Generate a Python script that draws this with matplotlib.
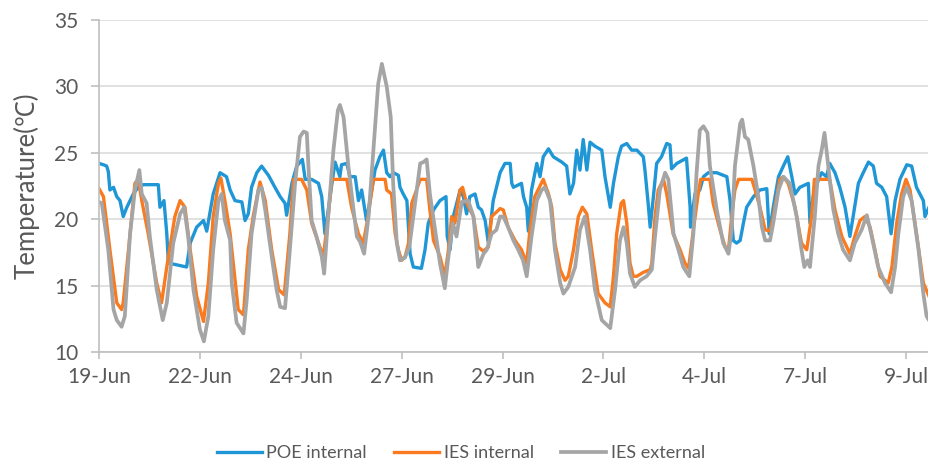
import matplotlib
matplotlib.use('Agg')
import matplotlib.pyplot as plt

# days since 19-Jun 00:00, temperature in degC
poe_t = [0.00, 0.11, 0.19, 0.23, 0.27, 0.36, 0.44, 0.52, 0.60, 0.69, 0.85, 0.97, 1.10, 1.47, 1.51, 1.61,
         1.68, 1.72, 2.17, 2.26, 2.42, 2.59, 2.67, 2.83, 3.00, 3.16, 3.25, 3.37, 3.54, 3.62, 3.70, 3.78,
         3.91, 4.03, 4.20, 4.36, 4.49, 4.61, 4.65, 4.78, 4.90, 5.04, 5.11, 5.27, 5.44, 5.52, 5.60, 5.75,
         5.85, 5.97, 6.01, 6.14, 6.22, 6.35, 6.43, 6.51, 6.63, 6.76, 6.84, 6.96, 7.05, 7.13, 7.21, 7.30,
         7.42, 7.46, 7.54, 7.63, 7.71, 7.79, 7.99, 8.08, 8.16, 8.29, 8.45, 8.60, 8.63, 8.70, 8.78, 8.95,
         9.03, 9.11, 9.19, 9.32, 9.40, 9.48, 9.57, 9.65, 9.77, 9.94, 10.06, 10.19, 10.23, 10.27, 10.47,
         10.52, 10.60, 10.64, 10.72, 10.85, 10.93, 11.01, 11.14, 11.26, 11.47, 11.59, 11.67, 11.76, 11.84,
         11.92, 12.00, 12.09, 12.17, 12.29, 12.46, 12.54, 12.67, 12.75, 12.87, 12.95, 13.08, 13.20, 13.33,
         13.49, 13.53, 13.61, 13.66, 13.74, 13.82, 13.94, 14.07, 14.15, 14.19, 14.32, 14.56, 14.65, 14.66,
         14.77, 14.89, 14.98, 15.10, 15.31, 15.56, 15.64, 15.72, 15.80, 15.89, 15.97, 16.05, 16.22, 16.38,
         16.55, 16.61, 16.71, 16.84, 16.96, 17.07, 17.17, 17.25, 17.37, 17.58, 17.62, 17.70, 17.83, 17.91,
         18.03, 18.11, 18.24, 18.36, 18.49, 18.61, 18.69, 18.82, 18.94, 19.07, 19.19, 19.27, 19.40, 19.52,
         19.63, 19.73, 19.85, 20.02, 20.14, 20.26, 20.43, 20.47, 20.57]
poe_v = [24.2, 24.1, 24.0, 23.6, 22.2, 22.4, 21.7, 21.4, 20.2, 20.9, 21.9, 22.4, 22.6, 22.6, 20.9, 21.4,
         18.9, 16.7, 16.4, 18.2, 19.4, 19.9, 19.1, 21.9, 23.5, 23.2, 22.2, 21.4, 21.3, 19.9, 20.4, 22.4,
         23.5, 24.0, 23.3, 22.4, 21.7, 21.2, 20.3, 22.7, 24.0, 24.5, 23.0, 23.0, 22.7, 21.7, 18.9, 22.2,
         24.3, 23.2, 24.1, 24.2, 23.2, 23.2, 21.4, 22.2, 19.9, 22.2, 23.7, 24.7, 25.2, 23.5, 23.2, 23.5,
         23.3, 22.4, 21.9, 21.4, 17.4, 16.4, 16.3, 17.7, 19.7, 20.7, 21.4, 21.7, 18.7, 17.7, 20.2, 22.2,
         21.7, 20.4, 21.7, 21.9, 20.9, 20.7, 19.9, 18.2, 21.4, 23.5, 24.2, 24.2, 22.7, 22.4, 22.7,
         21.7, 20.9, 19.1, 22.2, 24.2, 23.2, 24.7, 25.3, 24.7, 24.3, 24.0, 21.9, 22.7, 25.2,
         23.7, 26.0, 23.7, 25.8, 25.5, 25.2, 23.2, 20.9, 22.7, 24.7, 25.5, 25.7, 25.2, 25.2,
         24.7, 23.7, 21.2, 19.4, 21.7, 24.2, 24.7, 25.7, 25.6, 23.8, 24.2, 24.6, 20.9, 19.4,
         21.9, 22.2, 23.2, 23.5, 23.5, 23.2, 21.4, 18.4, 18.2, 18.4, 19.7, 20.9, 21.7, 22.2,
         22.3, 18.9, 20.9, 23.2, 24.0, 24.7, 23.2, 21.9, 22.4, 22.7, 19.7, 21.7, 23.0, 23.5,
         23.2, 24.2, 23.5, 22.4, 20.9, 18.7, 20.2, 22.7, 23.5, 24.3, 24.0, 22.7, 22.4, 21.7,
         18.9, 21.4, 23.0, 24.1, 24.0, 22.4, 21.4, 20.2, 20.9]

ies_int_t = [0.00, 0.11, 0.27, 0.44, 0.56, 0.60, 0.77, 0.89, 0.97, 1.06, 1.22, 1.43, 1.55, 1.68, 1.88,
             2.01, 2.13, 2.26, 2.42, 2.59, 2.71, 2.83, 2.96, 3.02, 3.12, 3.25, 3.37, 3.45, 3.58, 3.70,
             3.82, 3.99, 4.12, 4.28, 4.45, 4.59, 4.73, 4.82, 5.02, 5.15, 5.27, 5.44, 5.56, 5.68, 5.77,
             6.14, 6.26, 6.43, 6.55, 6.67, 6.80, 7.09, 7.13, 7.25, 7.34, 7.42, 7.50, 7.59, 7.67, 7.75,
             7.87, 7.96, 8.12, 8.20, 8.29, 8.45, 8.57, 8.66, 8.74, 8.82, 8.95, 9.01, 9.11, 9.28, 9.40,
             9.52, 9.65, 9.73, 9.94, 10.02, 10.14, 10.31, 10.47, 10.60, 10.68, 10.80, 11.01, 11.14, 11.22,
             11.30, 11.43, 11.55, 11.63, 11.76, 11.88, 11.98, 12.09, 12.21, 12.37, 12.54, 12.67, 12.75,
             12.83, 12.94, 13.00, 13.08, 13.16, 13.24, 13.33, 13.49, 13.66, 13.70, 13.78, 13.86, 13.99,
             14.07, 14.23, 14.40, 14.52, 14.61, 14.73, 14.85, 14.91, 15.14, 15.22, 15.39, 15.52, 15.60,
             15.68, 15.76, 15.85, 16.18, 16.26, 16.38, 16.51, 16.63, 16.71, 16.87, 16.96, 17.08, 17.25,
             17.41, 17.54, 17.66, 17.73, 18.11, 18.24, 18.41, 18.61, 18.73, 18.86, 18.98, 19.11, 19.23,
             19.36, 19.56, 19.65, 19.77, 19.89, 20.00, 20.10, 20.27, 20.43, 20.57]
ies_int_v = [22.3, 21.7, 17.7, 13.7, 13.2, 13.7, 18.9, 22.7, 23.0, 21.4, 18.9, 15.2, 13.7, 16.4, 20.2,
             21.4, 20.9, 17.7, 14.2, 12.3, 15.2, 20.2, 22.7, 23.1, 21.4, 18.9, 15.5, 13.2, 12.8, 17.7,
             20.2, 22.8, 21.4, 17.7, 14.7, 14.3, 18.9, 23.0, 23.0, 22.2, 19.7, 18.2, 17.2, 20.2, 23.0,
             23.0, 20.9, 18.9, 18.2, 20.2, 23.0, 23.0, 22.2, 21.9, 18.9, 17.7, 16.9, 17.2, 18.2, 21.2,
             22.2, 23.0, 23.0, 20.7, 18.4, 17.2, 15.7, 17.7, 20.2, 19.7, 22.2, 22.4, 21.2, 20.2, 17.9,
             17.6, 17.9, 20.2, 20.8, 20.7, 19.4, 18.4, 17.7, 16.7, 19.2, 21.7, 23.0, 21.9, 20.9,
             18.2, 16.2, 15.4, 15.7, 17.7, 20.2, 20.9, 20.4, 17.7, 14.4, 13.7, 13.4, 15.7,
             18.9, 21.2, 21.4, 19.7, 16.7, 15.7, 15.7, 16.0, 16.2, 16.7, 20.2, 22.2, 23.0,
             21.9, 18.9, 17.7, 16.7, 16.3, 19.2, 21.9, 23.0, 23.0, 21.2, 19.2, 17.9, 17.7,
             20.2, 22.2, 23.0, 23.0, 22.2, 20.9, 19.2, 19.1, 20.2, 23.0, 23.2, 22.7, 20.9,
             18.2, 17.7, 20.2, 23.0, 23.0, 20.7, 18.7, 17.4, 18.7, 19.9, 20.2, 19.4, 17.7,
             15.7, 15.2, 16.4, 19.7, 21.9, 23.0, 22.2, 18.7, 15.2, 14.2]

ies_ext_t = [0.00, 0.07, 0.23, 0.36, 0.44, 0.56, 0.64, 0.77, 0.89, 1.00, 1.06, 1.18, 1.26, 1.43, 1.58,
             1.68, 1.84, 2.01, 2.11, 2.21, 2.34, 2.50, 2.60, 2.71, 2.83, 2.96, 3.04, 3.12, 3.25, 3.29,
             3.41, 3.58, 3.66, 3.78, 3.95, 4.03, 4.12, 4.28, 4.40, 4.49, 4.61, 4.73, 4.86, 4.98, 5.07,
             5.15, 5.19, 5.27, 5.39, 5.52, 5.58, 5.68, 5.81, 5.92, 5.97, 6.06, 6.18, 6.30, 6.39, 6.47,
             6.57, 6.68, 6.80, 6.92, 7.01, 7.13, 7.23, 7.29, 7.38, 7.46, 7.58, 7.69, 7.79, 7.96, 8.04,
             8.12, 8.20, 8.33, 8.45, 8.57, 8.66, 8.77, 8.86, 8.99, 9.15, 9.28, 9.40, 9.53, 9.61, 9.73,
             9.85, 9.94, 10.02, 10.14, 10.27, 10.39, 10.51, 10.60, 10.72, 10.85, 10.97, 11.05, 11.18,
             11.30, 11.43, 11.51, 11.63, 11.80, 11.92, 12.04, 12.17, 12.29, 12.46, 12.67, 12.79, 12.91,
             13.00, 13.08, 13.16, 13.28, 13.41, 13.57, 13.70, 13.78, 13.90, 14.03, 14.11, 14.24, 14.36,
             14.48, 14.63, 14.73, 14.81, 14.89, 14.98, 15.08, 15.14, 15.31, 15.47, 15.60, 15.68, 15.76,
             15.89, 15.94, 16.01, 16.09, 16.22, 16.34, 16.43, 16.51, 16.63, 16.71, 16.84, 16.96, 17.12,
             17.29, 17.41, 17.48, 17.56, 17.62, 17.74, 17.83, 17.91, 17.98, 18.03, 18.12, 18.20, 18.32,
             18.44, 18.61, 18.73, 18.90, 19.03, 19.15, 19.31, 19.48, 19.63, 19.73, 19.81, 19.93, 20.02,
             20.14, 20.31, 20.43, 20.51, 20.57]
ies_ext_v = [21.3, 21.2, 17.7, 13.2, 12.4, 11.9, 12.7, 18.9, 22.2, 23.7, 21.9, 21.2, 18.7, 14.7, 12.4,
             13.7, 18.2, 20.4, 20.9, 18.7, 14.7, 11.7, 10.8, 12.7, 17.7, 21.4, 21.9, 19.9, 18.4, 15.2,
             12.2, 11.4, 13.9, 18.9, 22.2, 22.4, 20.7, 17.2, 14.7, 13.4, 13.3, 17.7, 22.7, 26.2, 26.6,
             26.5, 24.0, 19.9, 18.7, 17.2, 15.9, 20.2, 25.2, 28.2, 28.6, 27.7, 24.0, 20.9, 18.7, 18.3,
             17.4, 20.2, 25.2, 30.2, 31.7, 30.0, 27.7, 22.7, 18.2, 16.9, 17.1, 17.9, 20.2, 24.2, 24.3,
             24.5, 21.9, 19.2, 16.7, 14.8, 17.2, 19.7, 18.7, 21.3, 21.4, 20.2, 16.4, 17.4, 17.7, 18.9,
             19.2, 20.2, 20.2, 19.4, 18.4, 17.7, 16.9, 15.7, 18.7, 21.4, 22.2, 22.4, 21.4,
             17.7, 15.2, 14.4, 14.9, 16.4, 19.2, 20.2, 17.7, 14.7, 12.4, 11.8, 14.7, 18.4,
             19.4, 18.2, 15.9, 14.9, 15.4, 15.7, 16.2, 18.7, 22.2, 23.5, 23.0, 18.9, 17.7,
             16.4, 15.7, 18.9, 23.5, 26.7, 27.0, 26.5, 24.0, 20.7, 18.2, 17.4, 19.2, 24.0,
             27.2, 27.5, 26.2, 26.0, 24.0, 21.7, 19.4, 18.4, 18.4, 19.7, 22.2, 23.2, 22.7,
             20.2, 17.7, 16.4, 16.9, 16.4, 20.2, 24.0, 25.2, 26.5, 25.2, 22.7, 20.7, 18.9,
             17.7, 16.9, 18.2, 19.2, 20.3, 18.7, 16.4, 15.2, 14.5, 16.4, 18.9, 21.7, 22.4,
             21.4, 17.7, 14.4, 12.7, 12.4]

tick_days = [0, 2.5, 5, 7.5, 10, 12.5, 15, 17.5, 20]
tick_labels = ['19-Jun', '22-Jun', '24-Jun', '27-Jun', '29-Jun', '2-Jul', '4-Jul', '7-Jul', '9-Jul']

text_col = '#595959'
axis_col = '#BFBFBF'
grid_col = '#D9D9D9'
plt.rcParams['font.family'] = ['Lato', 'Noto Sans', 'DejaVu Sans']

fig = plt.figure(figsize=(9.29, 4.66), dpi=100)
ax = fig.add_axes([99 / 929, 114 / 466, 830 / 929, 332 / 466])

ax.plot(poe_t, poe_v, color='#1F96D6', lw=2.4, label='POE internal', solid_joinstyle='round')
ax.plot(ies_int_t, ies_int_v, color='#F97A1F', lw=2.4, label='IES internal', solid_joinstyle='round')
ax.plot(ies_ext_t, ies_ext_v, color='#A5A5A5', lw=2.7, label='IES external', solid_joinstyle='round')

ax.set_xlim(0, 20.57)
ax.set_ylim(10, 35)
ax.set_yticks([10, 15, 20, 25, 30, 35])
ax.set_xticks(tick_days)
ax.set_xticklabels(tick_labels)
ax.grid(axis='y', color=grid_col, lw=1.1)
ax.set_axisbelow(True)
for s in ['top', 'right']:
    ax.spines[s].set_visible(False)
for s in ['left', 'bottom']:
    ax.spines[s].set_color(axis_col)
    ax.spines[s].set_linewidth(1.2)
ax.tick_params(axis='both', colors=axis_col, labelcolor=text_col, labelsize=15, width=1.2)
ax.tick_params(axis='x', length=5, pad=6)
ax.tick_params(axis='y', length=6, pad=9)
ax.set_ylabel('Temperature(℃)', fontsize=18.5, color=text_col, labelpad=10)

fig.legend(loc='center', bbox_to_anchor=(0.496, 13 / 466), ncol=3, frameon=False, fontsize=13,
           handlelength=2.5, handletextpad=0.25, columnspacing=1.5, labelcolor=text_col)

fig.savefig('out.png', dpi=100)
